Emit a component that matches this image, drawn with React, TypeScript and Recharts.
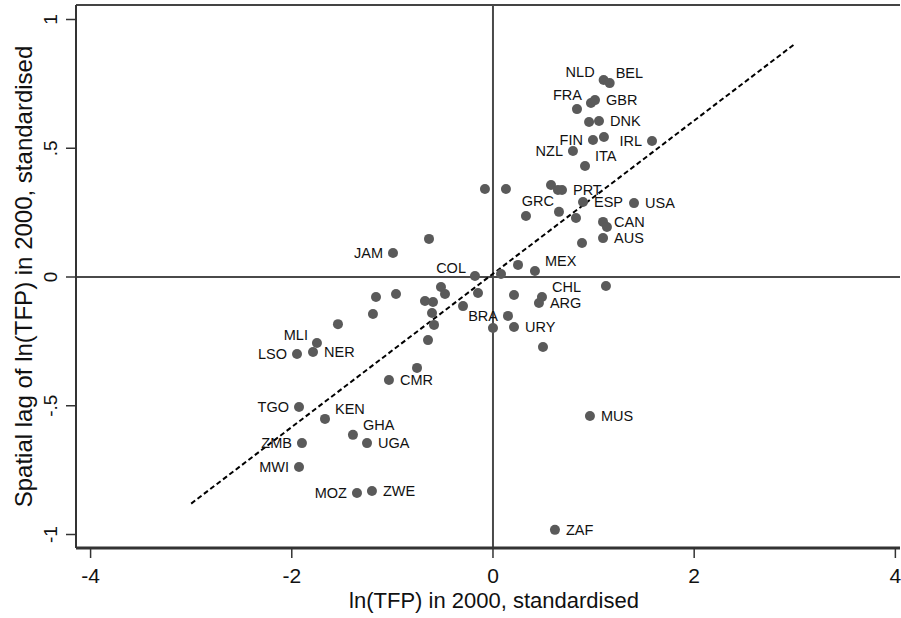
import React from "react";
import {
  ScatterChart,
  Scatter,
  XAxis,
  YAxis,
  ReferenceLine,
} from "recharts";

// country codes ("" = unlabelled point), ln(TFP) and its spatial lag
const codes = [
  "NLD", "BEL", "", "FRA", "GBR", "", "DNK", "FIN", "", "IRL", "NZL", "ITA",
  "", "", "", "", "PRT", "", "GRC", "ESP", "", "USA", "CAN", "", "AUS", "",
  "", "MEX", "", "COL", "JAM", "", "", "", "", "", "", "", "", "", "",
  "CHL", "ARG", "", "", "", "", "BRA", "", "URY", "", "", "", "CMR", "",
  "MLI", "NER", "LSO", "TGO", "KEN", "GHA", "UGA", "ZMB", "MWI", "MOZ", "ZWE",
  "MUS", "ZAF",
];

const tfp = [
  1.10, 1.16, 0.835, 0.974, 1.014, 0.955, 1.054, 0.994, 1.103, 1.581, 0.795, 0.915,
  -0.08, 0.129, 0.577, 0.646, 0.686, 0.328, 0.656, 0.895, 0.825, 1.402, 1.094, 1.133, 1.094, 0.885,
  0.249, 0.417, 0.08, -0.179, -0.994, -0.636, -1.163, -0.964, -0.517, -0.477, -0.676, -0.596, -0.149, -0.298, 0.209,
  0.487, 0.457, 1.123, -1.193, -0.606, -0.586, 0.149, 0.0, 0.209, -0.646, 0.497, -0.755, -1.034, -1.541,
  -1.75, -1.789, -1.948, -1.928, -1.67, -1.392, -1.252, -1.899, -1.928, -1.352, -1.203,
  0.964, 0.616,
];

const lag = [
  0.765, 0.753, 0.652, 0.676, 0.687, 0.602, 0.606, 0.532, 0.544, 0.528, 0.489, 0.431,
  0.342, 0.342, 0.357, 0.338, 0.338, 0.237, 0.253, 0.291, 0.229, 0.287, 0.214, 0.194, 0.151, 0.132,
  0.047, 0.023, 0.012, 0.004, 0.093, 0.148, -0.078, -0.066, -0.039, -0.066, -0.093, -0.097, -0.062, -0.113, -0.07,
  -0.078, -0.101, -0.035, -0.144, -0.14, -0.186, -0.151, -0.198, -0.194, -0.245, -0.272, -0.353, -0.4, -0.183,
  -0.256, -0.291, -0.299, -0.505, -0.551, -0.613, -0.645, -0.645, -0.738, -0.839, -0.831,
  -0.54, -0.982,
];

// fitted line end points
const fitX = [-3, 3];
const fitY = [-0.88, 0.905];

const xTicks = [-4, -2, 0, 2, 4];
const yTicks = [-1, -0.5, 0, 0.5, 1];

// marker label position, as a clock face (Stata mlabvposition)
const labelClock: Record<string, number> = {
  NLD: 10, BEL: 1, FRA: 10, GBR: 3, DNK: 3, FIN: 9, IRL: 9, NZL: 9, ITA: 2,
  PRT: 3, GRC: 11, ESP: 3, USA: 3, CAN: 3, AUS: 3, MEX: 2, COL: 10, JAM: 9,
  CHL: 2, ARG: 3, BRA: 9, URY: 3, CMR: 3, MLI: 10, NER: 3, LSO: 9, TGO: 9,
  KEN: 2, GHA: 2, UGA: 3, ZMB: 9, MWI: 9, MOZ: 9, ZWE: 3, MUS: 3, ZAF: 3,
};

const points = codes.map((code, i) => ({ code, x: tfp[i], y: lag[i] }));

const FONT = '"Liberation Sans", Arial, sans-serif';

const clockOffset = (c: number) => {
  switch (c) {
    case 9:
      return { dx: -10, dy: 0, anchor: "end" };
    case 10:
      return { dx: -9, dy: -8, anchor: "end" };
    case 11:
      return { dx: -5, dy: -11, anchor: "end" };
    case 1:
      return { dx: 6, dy: -10, anchor: "start" };
    case 2:
      return { dx: 10, dy: -10, anchor: "start" };
    default:
      return { dx: 11, dy: 0, anchor: "start" };
  }
};

function Dot(props: any) {
  const { cx, cy, payload } = props;
  const code: string = payload.code;
  const off = code ? clockOffset(labelClock[code] ?? 3) : null;
  return (
    <g>
      <circle cx={cx} cy={cy} r={5} fill="#5a5a5a" />
      {off && (
        <text
          x={cx + off.dx}
          y={cy + off.dy}
          dy="0.36em"
          textAnchor={off.anchor}
          fontSize={14.5}
          fontFamily={FONT}
          fill="#111"
        >
          {code}
        </text>
      )}
    </g>
  );
}

const fmtY = (v: number) =>
  v === 0 ? "0" : String(v).replace("0.", ".");

function YTick(props: any) {
  const { x, y, payload } = props;
  const bx = x - 7;
  return (
    <text
      x={bx}
      y={y}
      transform={`rotate(-90 ${bx} ${y})`}
      textAnchor="middle"
      fontSize={19}
      fontFamily={FONT}
      fill="#111"
    >
      {fmtY(payload.value)}
    </text>
  );
}

function YTitle(props: any) {
  const vb = props.viewBox;
  const x = vb.x + 32;
  const y = vb.y + vb.height / 2;
  return (
    <text
      x={x}
      y={y}
      transform={`rotate(-90 ${x} ${y})`}
      textAnchor="middle"
      fontSize={24}
      fontFamily={FONT}
      fill="#111"
    >
      Spatial lag of ln(TFP) in 2000, standardised
    </text>
  );
}

export default function App() {
  const fit = fitX.map((x, i) => ({ x, y: fitY[i] }));
  return (
    <div style={{ width: 901, height: 618, background: "#fff" }}>
      <style>{`body{margin:0}`}</style>
      <ScatterChart
        width={901}
        height={618}
        margin={{ top: 5, right: 1, left: 0, bottom: 0 }}
      >
        <XAxis
          type="number"
          dataKey="x"
          domain={[-4.145, 4.046]}
          ticks={xTicks}
          allowDataOverflow
          height={70}
          tickSize={10}
          tickMargin={10}
          stroke="#333"
          axisLine={{ stroke: "#333", strokeWidth: 3 }}
          tickLine={{ stroke: "#333", strokeWidth: 1.5 }}
          tick={{ fontSize: 21, fontFamily: FONT, fill: "#111" }}
          label={{
            value: "ln(TFP) in 2000, standardised",
            position: "insideBottom",
            offset: 10,
            dx: 6,
            fontSize: 22,
            fontFamily: FONT,
            fill: "#111",
          }}
        />
        <YAxis
          type="number"
          dataKey="y"
          domain={[-1.0524, 1.0563]}
          ticks={yTicks}
          allowDataOverflow
          width={76}
          tickSize={10}
          tickMargin={2}
          axisLine={{ stroke: "#333", strokeWidth: 2 }}
          tickLine={{ stroke: "#333", strokeWidth: 1.5 }}
          tick={<YTick />}
          label={{ content: <YTitle /> }}
        />
        <ReferenceLine y={1.0563} stroke="#444" strokeWidth={2} ifOverflow="extendDomain" />
        <ReferenceLine x={0} stroke="#4a4a4a" strokeWidth={2} />
        <ReferenceLine y={0} stroke="#4a4a4a" strokeWidth={2} />
        <ReferenceLine
          segment={[fit[0], fit[1]]}
          stroke="#000"
          strokeWidth={2}
          strokeDasharray="5 3"
        />
        <Scatter data={points} shape={<Dot />} isAnimationActive={false} />
      </ScatterChart>
    </div>
  );
}
